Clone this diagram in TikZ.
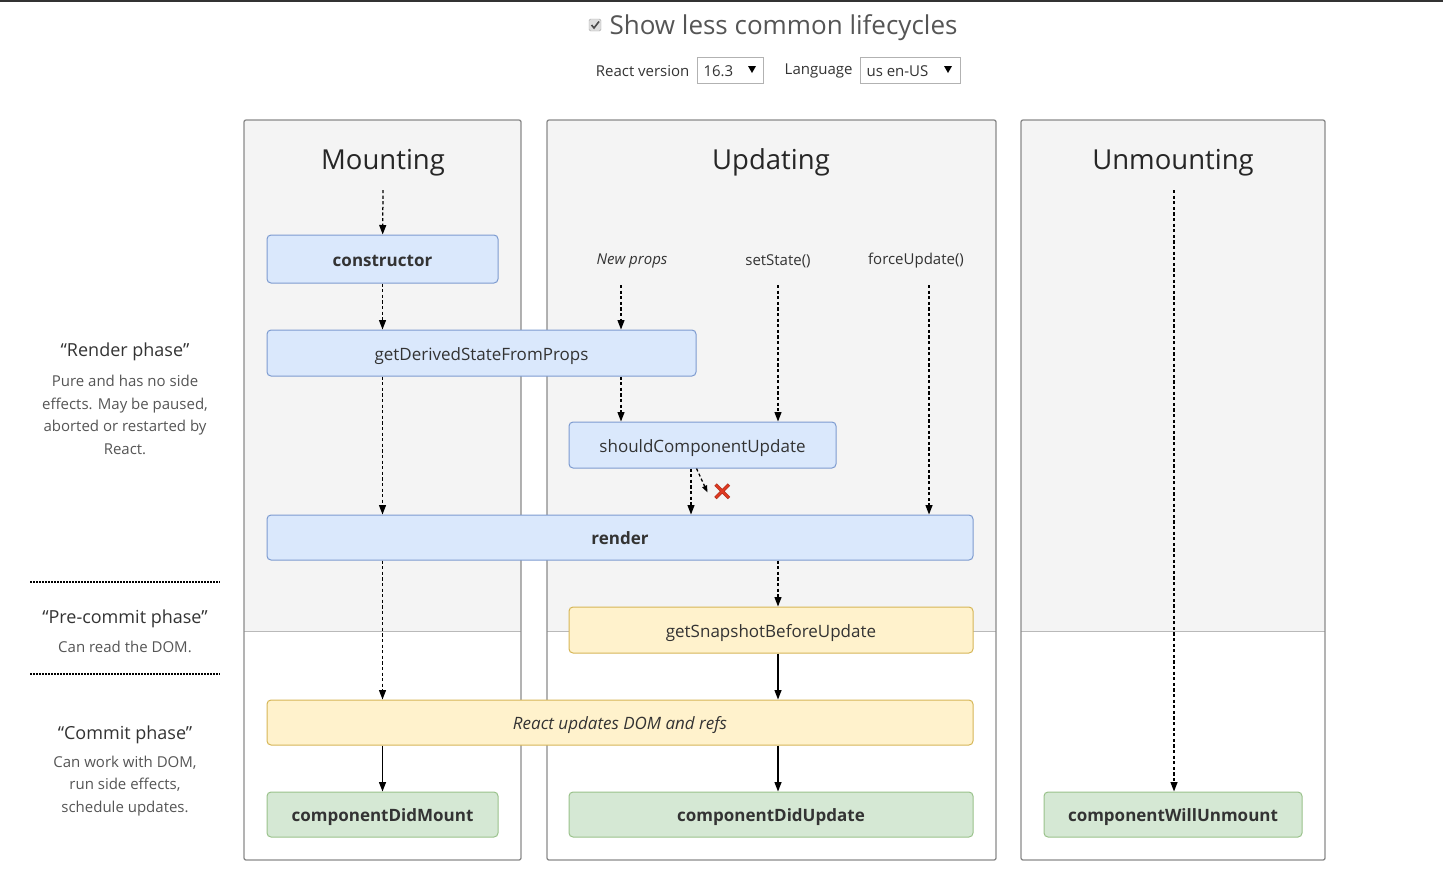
\documentclass[tikz,border=0pt]{standalone}
\usepackage{fontspec}
\setmainfont{Open Sans}
\usetikzlibrary{arrows.meta}
\definecolor{lanegray}{HTML}{F4F4F4}
\definecolor{laneline}{HTML}{8A8A8A}
\definecolor{bluefill}{HTML}{DAE8FC}
\definecolor{blueline}{HTML}{7D9BD0}
\definecolor{yellowfill}{HTML}{FFF2CC}
\definecolor{yellowline}{HTML}{D6B656}
\definecolor{greenfill}{HTML}{D5E8D4}
\definecolor{greenline}{HTML}{9AC28B}
\definecolor{txt}{HTML}{333333}
\definecolor{softtxt}{HTML}{555555}
\definecolor{crossred}{HTML}{E03A22}
\tikzset{
	lane/.style={draw=laneline,line width=1.3,rounded corners=2},
	method/.style={draw=#1line,fill=#1fill,line width=1,rounded corners=4,text=txt,inner sep=0,text height=16.5pt,text depth=2pt},
	lanetitle/.style={font=\fontsize{27.5}{32}\selectfont,text=black!85},
	trigger/.style={font=\fontsize{15}{17}\selectfont,text=txt},
	phase/.style={font=\fontsize{18}{21}\selectfont,text=txt},
	phasenote/.style={font=\fontsize{15}{22.7}\selectfont,text=softtxt,align=center},
	dflow/.style={->,dash pattern=on 3.2pt off 2.4pt,line width=1.25},
	sflow/.style={->,line width=1.3},
}
\begin{document}
\begin{tikzpicture}[x=1pt,y=-1pt,>={Triangle[length=9.5pt,width=7pt]}]
	\useasboundingbox (0,0) rectangle (1443,887);
	\fill[black!80] (0,0) rectangle (1443,2);
	% header
	\draw[gray!70,fill=gray!25,rounded corners=1.5] (589,19) rectangle (601,31);
	\draw[black!70,line width=1.6] (591.5,25) -- (594,28) -- (599,21.5);
	\node[anchor=west,font=\fontsize{26}{30}\selectfont,text=softtxt] (show) at (606,28) {Show less common lifecycles};
	\node[anchor=east,trigger] (version) at (693,71) {React version};
	\draw[gray!60,fill=white] (697,57) rectangle (763,83);
	\node[anchor=west,trigger] (ver) at (700,71) {16.3};
	\fill[black] (748,66) -- (756,66) -- (752,73) -- cycle;
	\node[anchor=east,trigger] (language) at (856,71) {Language};
	\draw[gray!60,fill=white] (860,57) rectangle (960,83);
	\node[anchor=west,trigger] (lang) at (863,71) {us en-US};
	\fill[black] (944,66) -- (952,66) -- (948,73) -- cycle;
	% lanes
	\foreach \l/\r in {244/521,547/996,1021/1325}{
		\fill[lanegray,rounded corners=2] (\l,120) rectangle (\r,631);
		\draw[gray!55,line width=1] (\l,631) -- (\r,631);
		\draw[lane] (\l,120) rectangle (\r,860);
	}
	\node[lanetitle] (mount) at (383,163) {Mounting};
	\node[lanetitle] (update) at (771,162) {Updating};
	\node[lanetitle] (unmount) at (1173,163) {Unmounting};
	% phases
	\node[phase] (render phase) at (125,352) {“Render phase”};
	\node[phasenote] (render note) at (125,415) {Pure and has no side\\effects. May be paused,\\aborted or restarted by\\React.};
	\draw[line width=1.6,dash pattern=on 1.5pt off 1.5pt] (30,582) -- (220,582);
	\node[phase] (precommit phase) at (125,619) {“Pre-commit phase”};
	\node[phasenote] (precommit note) at (125,647) {Can read the DOM.};
	\draw[line width=1.6,dash pattern=on 1.5pt off 1.5pt] (30,674) -- (220,674);
	\node[phase] (commit phase) at (125,735) {“Commit phase”};
	\node[phasenote] (commit note) at (125,786) {Can work with DOM,\\run side effects,\\schedule updates.};
	% methods
	\begin{scope}[font=\fontsize{17}{20}\selectfont]
	\node[method=blue,minimum width=231,minimum height=48] (ctor) at (382.5,259) {\bfseries constructor};
	\node[method=blue,minimum width=429,minimum height=46] (gdsfp) at (481.5,353) {getDerivedStateFromProps};
	\node[method=blue,minimum width=267,minimum height=46] (scu) at (702.5,445) {shouldComponentUpdate};
	\node[method=blue,minimum width=706,minimum height=45] (render) at (620,537.5) {\bfseries render};
	\node[method=yellow,minimum width=404,minimum height=46] (gsbu) at (771,630) {getSnapshotBeforeUpdate};
	\node[method=yellow,minimum width=706,minimum height=45] (dom) at (620,722.5) {\itshape React updates DOM and refs};
	\node[method=green,minimum width=231,minimum height=45] (cdm) at (382.5,814.5) {\bfseries componentDidMount};
	\node[method=green,minimum width=404,minimum height=45] (cdu) at (771,814.5) {\bfseries componentDidUpdate};
	\node[method=green,minimum width=258,minimum height=45] (cwu) at (1173,814.5) {\bfseries componentWillUnmount};
	\end{scope}
	% triggers
	\node[trigger,font=\fontsize{15}{17}\selectfont\itshape] (newprops) at (632,261) {New props};
	\node[trigger] (setstate) at (778,261) {setState()};
	\node[trigger] (force) at (916,261) {forceUpdate()};
	\coordinate (mtop) at (383,190);
	\coordinate (np) at (621,285);
	\coordinate (ss) at (778,285);
	\coordinate (fu) at (929,285);
	\coordinate (utop) at (1174,190);
	% mounting flow
	\draw[dflow] (mtop) -- (ctor);
	\draw[dflow] (ctor.south) -- (ctor.south |- gdsfp.north);
	\draw[dflow] (ctor.south |- gdsfp.south) -- (ctor.south |- render.north);
	\draw[dflow] (ctor.south |- render.south) -- (ctor.south |- dom.north);
	\draw[sflow] (ctor.south |- dom.south) -- (cdm);
	% updating flow
	\draw[dflow] (np) -- (np |- gdsfp.north);
	\draw[dflow] (np |- gdsfp.south) -- (np |- scu.north);
	\draw[dflow] (ss) -- (ss |- scu.north);
	\draw[dflow] (fu) -- (fu |- render.north);
	\draw[dflow] ([xshift=-11.5]scu.south) -- ([xshift=-11.5]scu.south |- render.north);
	\draw[dflow,>={Triangle[length=7pt,width=5pt]}] ([xshift=-6]scu.south) -- ++(11,24) coordinate (skip);
	\draw[crossred!80!black,line width=3.4] (715.5,484.5) -- (729,498) (729,484.5) -- (715.5,498);
	\draw[crossred,line width=2] (716,485) -- (728.5,497.5) (728.5,485) -- (716,497.5);
	\draw[dflow] (ss |- render.south) -- (ss |- gsbu.north);
	\draw[sflow] (ss |- gsbu.south) -- (ss |- dom.north);
	\draw[sflow] (ss |- dom.south) -- (ss |- cdu.north);
	% unmounting flow
	\draw[dflow] (utop) -- (utop |- cwu.north);
\end{tikzpicture}
\end{document}
